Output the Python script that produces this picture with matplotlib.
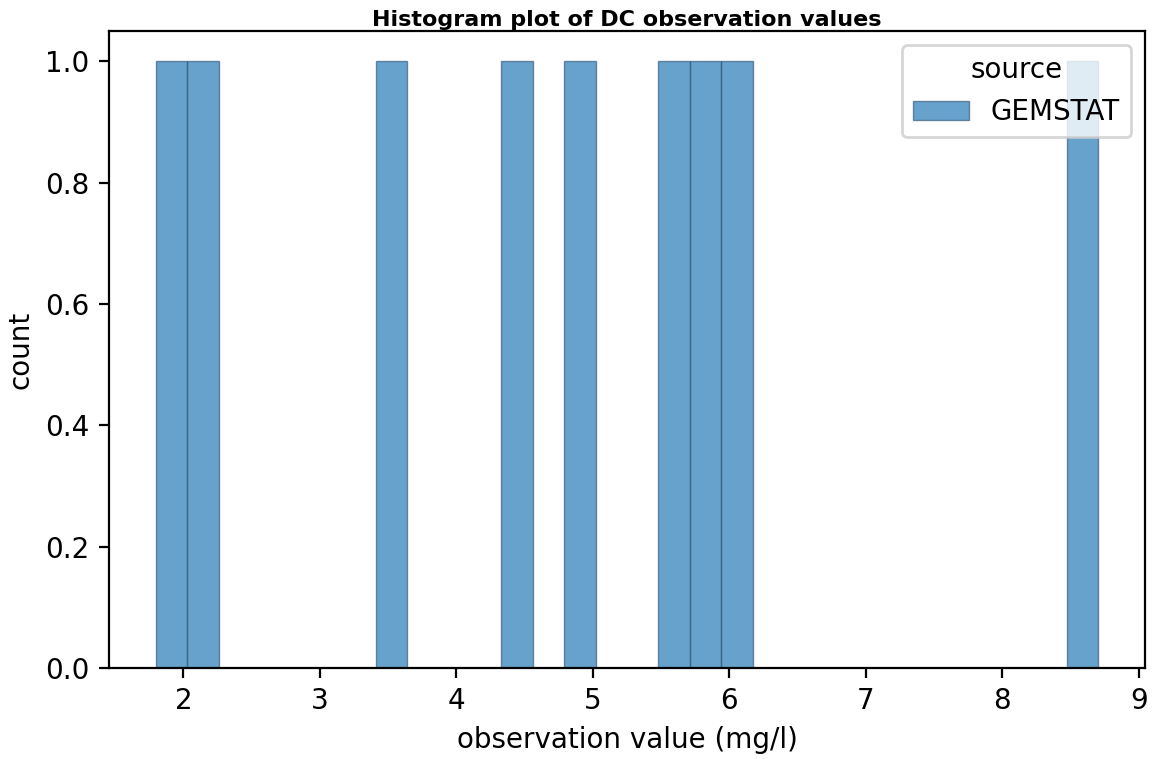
import matplotlib
matplotlib.use("Agg")
import matplotlib.pyplot as plt
import numpy as np

# observation values (mg/l), source GEMSTAT
values = [1.80, 2.10, 3.50, 4.40, 4.90, 5.60, 5.80, 6.00, 8.70]
source_label = "GEMSTAT"
n_bins = 30

fig, ax = plt.subplots(figsize=(5.795, 3.795), dpi=200)
fig.subplots_adjust(left=0.094, right=0.988, top=0.959, bottom=0.12)

ax.hist(values, bins=n_bins, color="#1f77b4", alpha=0.68,
        edgecolor="#3a5c7a", linewidth=0.5, label=source_label)

ax.set_title("Histogram plot of DC observation values", fontsize=8,
             fontweight="bold", pad=2)
ax.set_xlabel("observation value (mg/l)", fontsize=10)
ax.set_ylabel("count", fontsize=10)
ax.tick_params(labelsize=10)
ax.legend(title="source", loc="upper right", fontsize=10, title_fontsize=10)

fig.savefig("out.png", dpi=200)
